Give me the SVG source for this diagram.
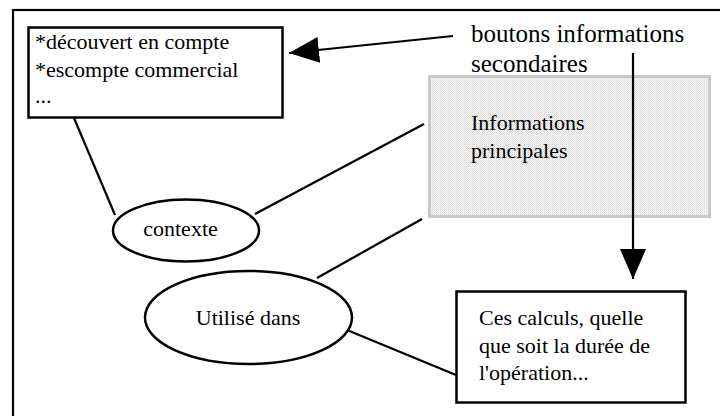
<svg xmlns="http://www.w3.org/2000/svg" width="720" height="416" viewBox="0 0 720 416">
<style>
.t{font-family:"Liberation Serif","Times New Roman",Times,serif;fill:#000;}
.box{fill:#fff;stroke:#000;stroke-width:2.5;}
.ln{stroke:#000;stroke-width:2.2;fill:none;}
</style>
<defs>
<pattern id="dots" width="2" height="2" patternUnits="userSpaceOnUse">
<rect width="2" height="2" fill="#f7f7f7"/>
<rect width="1" height="1" fill="#d6d6d6"/>
<rect x="1" y="1" width="1" height="1" fill="#e4e4e4"/>
</pattern>
<marker id="ah" markerUnits="userSpaceOnUse" markerWidth="32" markerHeight="28" refX="30" refY="13" orient="auto">
<polygon points="0,0 30,13 0,26" fill="#000"/>
</marker>
</defs>
<rect x="13" y="10" width="720" height="420" fill="none" stroke="#000" stroke-width="2.2"/>
<g id="info-principales">
<rect x="429.5" y="76.5" width="280" height="140" fill="url(#dots)" stroke="#c8c8c8" stroke-width="3"/>
<text class="t" x="471" y="130" font-size="22" font-family="Liberation Serif, serif">Informations</text>
<text class="t" x="471" y="158" font-size="22" font-family="Liberation Serif, serif">principales</text>
</g>
<g id="boutons">
<text class="t" x="471" y="42" font-size="25" font-family="Liberation Serif, serif">boutons informations</text>
<text class="t" x="471" y="72" font-size="25" font-family="Liberation Serif, serif">secondaires</text>
</g>
<g id="liste">
<rect class="box" x="28.5" y="27.5" width="254" height="90"/>
<text class="t" x="35" y="48.5" font-size="22" font-family="Liberation Serif, serif">*découvert en compte</text>
<text class="t" x="35" y="76.5" font-size="22" font-family="Liberation Serif, serif">*escompte commercial</text>
<text class="t" x="35" y="103" font-size="22" font-family="Liberation Serif, serif">...</text>
</g>
<g id="contexte">
<ellipse class="box" cx="186" cy="230.5" rx="73" ry="31"/>
<text class="t" x="180.5" y="236" font-size="22" text-anchor="middle" font-family="Liberation Serif, serif">contexte</text>
</g>
<g id="utilise">
<ellipse class="box" cx="248.5" cy="317.5" rx="103.5" ry="46.5"/>
<text class="t" x="248" y="325" font-size="22" text-anchor="middle" font-family="Liberation Serif, serif">Utilisé dans</text>
</g>
<g id="calculs">
<rect class="box" x="456.5" y="291.5" width="229" height="111"/>
<text class="t" x="479" y="324.5" font-size="22" font-family="Liberation Serif, serif">Ces calculs, quelle</text>
<text class="t" x="479" y="352.5" font-size="22" font-family="Liberation Serif, serif">que soit la durée de</text>
<text class="t" x="479" y="380" font-size="22" font-family="Liberation Serif, serif">l'opération...</text>
</g>
<g id="connectors">
<line class="ln" x1="453" y1="36" x2="289" y2="53" marker-end="url(#ah)"/>
<line class="ln" x1="633" y1="53" x2="633" y2="279" marker-end="url(#ah)"/>
<line class="ln" x1="74" y1="118" x2="115" y2="215"/>
<line class="ln" x1="255" y1="214" x2="424" y2="124"/>
<line class="ln" x1="317" y1="278" x2="422" y2="219"/>
<line class="ln" x1="347" y1="330" x2="456" y2="375"/>
</g>
</svg>
